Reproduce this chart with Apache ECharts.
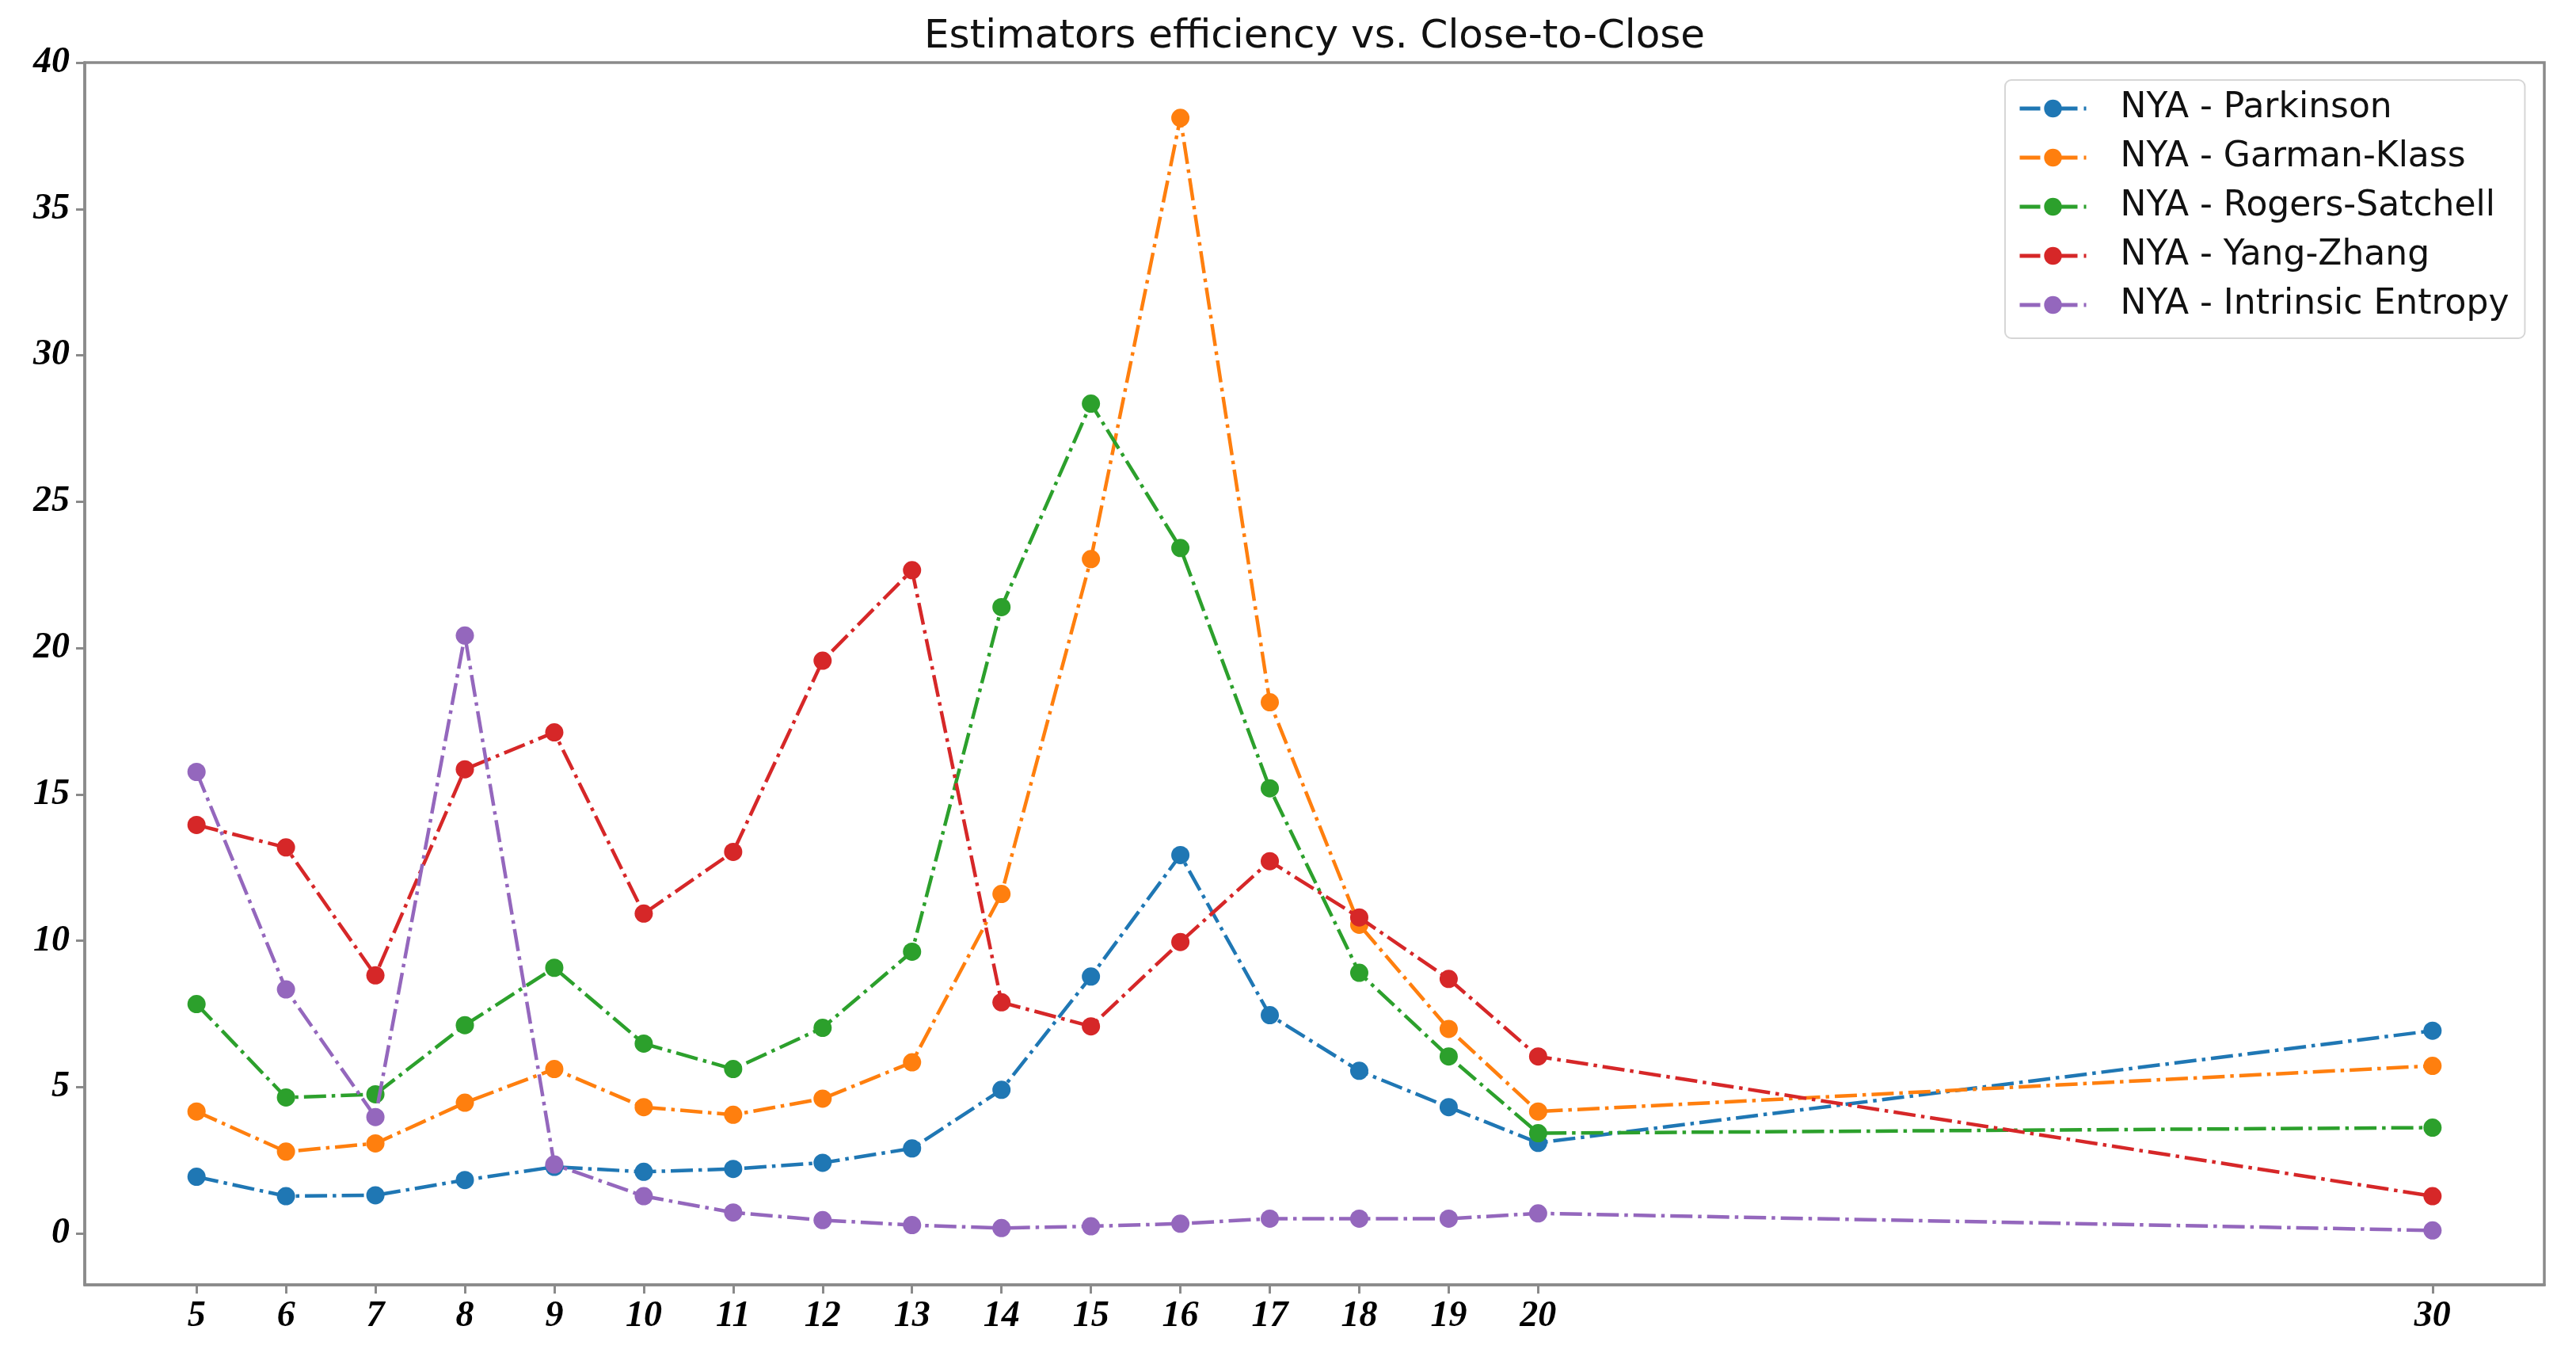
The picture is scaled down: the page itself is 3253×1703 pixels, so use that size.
<!DOCTYPE html>
<html>
<head>
<meta charset="utf-8">
<script src="https://cdn.jsdelivr.net/npm/echarts@6/dist/echarts.min.js"></script>
<style>
html,body{margin:0;padding:0;background:#fff;}
#chart{width:3253px;height:1703px;}
</style>
</head>
<body>
<div id="chart"></div>
<script>
// Window sizes (x axis)
const windows = [5, 6, 7, 8, 9, 10, 11, 12, 13, 14, 15, 16, 17, 18, 19, 20, 30];
const xTicks = [5, 6, 7, 8, 9, 10, 11, 12, 13, 14, 15, 16, 17, 18, 19, 20, 30];
const yTicks = [0, 5, 10, 15, 20, 25, 30, 35, 40];

const seriesNames = [
  'NYA - Parkinson',
  'NYA - Garman-Klass',
  'NYA - Rogers-Satchell',
  'NYA - Yang-Zhang',
  'NYA - Intrinsic Entropy'
];

const parkinson = [1.94, 1.28, 1.31, 1.83, 2.28, 2.11, 2.21, 2.42, 2.91, 4.91, 8.78, 12.93, 7.46, 5.56, 4.32, 3.10, 6.93];
const garmanKlass = [4.17, 2.80, 3.08, 4.47, 5.62, 4.32, 4.06, 4.61, 5.85, 11.60, 23.04, 38.11, 18.15, 10.55, 6.99, 4.17, 5.73];
const rogersSatchell = [7.84, 4.65, 4.76, 7.12, 9.08, 6.49, 5.62, 7.03, 9.63, 21.40, 28.35, 23.42, 15.21, 8.91, 6.05, 3.43, 3.62];
const yangZhang = [13.96, 13.19, 8.82, 15.86, 17.12, 10.93, 13.04, 19.57, 22.66, 7.90, 7.08, 9.96, 12.72, 10.80, 8.70, 6.05, 1.28];
const intrinsicEntropy = [15.77, 8.34, 3.98, 20.43, 2.36, 1.28, 0.72, 0.46, 0.29, 0.19, 0.25, 0.34, 0.51, 0.51, 0.51, 0.69, 0.11];

const colors = ['#1f77b4', '#ff7f0e', '#2ca02c', '#d62728', '#9467bd'];
const allValues = [parkinson, garmanKlass, rogersSatchell, yangZhang, intrinsicEntropy];

const spine = '#8a8a8a';
const tickFont = {
  fontFamily: 'Liberation Serif',
  fontWeight: 'bold',
  fontStyle: 'italic',
  fontSize: 46,
  color: '#000'
};

const series = allValues.map((vals, i) => ({
  name: seriesNames[i],
  type: 'line',
  data: windows.map((w, j) => [w, vals[j]]),
  symbol: 'circle',
  symbolSize: 23,
  showSymbol: true,
  color: colors[i],
  itemStyle: { color: colors[i] },
  lineStyle: { color: colors[i], width: 4.5, type: [28, 7, 4.5, 7] },
  emphasis: { disabled: true },
  z: 2 + i
}));

const chart = echarts.init(document.getElementById('chart'), null, { renderer: 'canvas' });
chart.setOption({
  animation: false,
  backgroundColor: '#fff',
  title: {
    text: 'Estimators efficiency vs. Close-to-Close',
    left: 1167,
    top: 22,
    padding: 0,
    textStyle: {
      fontFamily: 'DejaVu Sans',
      fontWeight: 'normal',
      fontSize: 50,
      color: '#111'
    }
  },
  legend: {
    orient: 'vertical',
    left: 2532,
    top: 101,
    padding: [14, 20, 20, 16],
    itemWidth: 84,
    itemHeight: 28,
    itemGap: 18,
    backgroundColor: 'rgba(255,255,255,0.85)',
    borderColor: '#d6d6d6',
    borderWidth: 2,
    borderRadius: 8,
    lineStyle: { width: 5, type: [26, 8, 5, 8] },
    textStyle: {
      fontFamily: 'DejaVu Sans',
      fontSize: 44,
      lineHeight: 44,
      color: '#111',
      padding: [0, 0, 0, 38]
    },
    data: seriesNames
  },
  grid: {
    left: 107,
    right: 40,
    top: 79,
    bottom: 81,
    show: true,
    borderColor: spine,
    borderWidth: 3.5,
    backgroundColor: 'transparent'
  },
  xAxis: {
    type: 'value',
    min: 3.75,
    max: 31.25,
    axisLine: { show: true, onZero: false, lineStyle: { color: spine, width: 3.5 } },
    axisTick: { show: true, length: 11, lineStyle: { color: spine, width: 3 }, customValues: xTicks },
    axisLabel: Object.assign({ margin: 17, customValues: xTicks }, tickFont),
    splitLine: { show: false }
  },
  yAxis: {
    type: 'value',
    min: -1.75,
    max: 40,
    axisLine: { show: true, onZero: false, lineStyle: { color: spine, width: 3.5 } },
    axisTick: { show: true, length: 11, lineStyle: { color: spine, width: 3 }, customValues: yTicks },
    axisLabel: Object.assign({ margin: 19, customValues: yTicks }, tickFont),
    splitLine: { show: false }
  },
  series: series
});
</script>
</body>
</html>
